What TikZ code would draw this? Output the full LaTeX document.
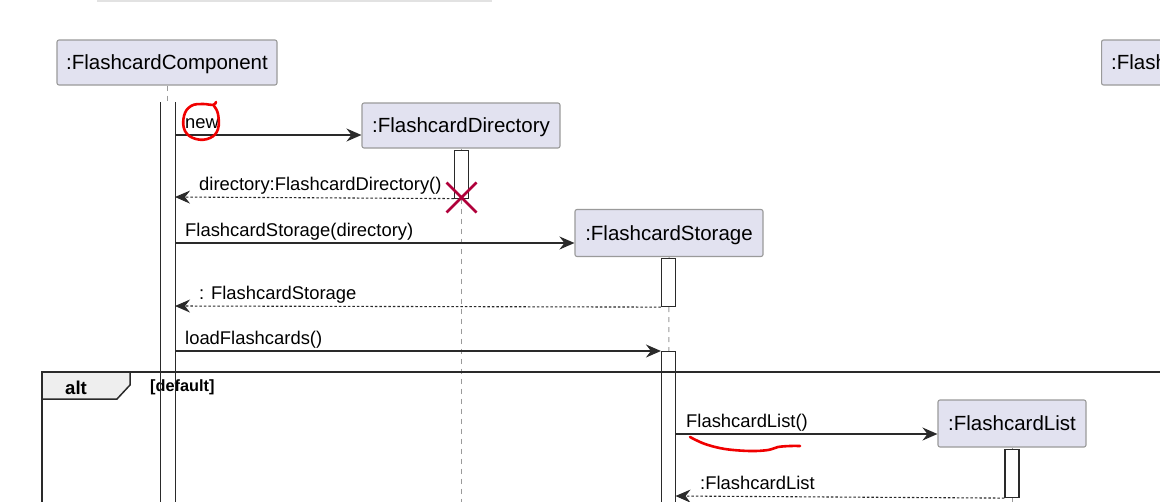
\documentclass[tikz,border=0pt]{standalone}
\usepackage{fontspec}
\setmainfont{Liberation Sans}
\usetikzlibrary{arrows.meta}
\definecolor{pbg}{HTML}{E2E2F0}
\definecolor{pbd}{HTML}{9A9A9A}
\definecolor{ink}{HTML}{2A2A2A}
\definecolor{life}{HTML}{9A9A9A}
\definecolor{xred}{HTML}{B0003A}
\definecolor{tabbg}{HTML}{EEEEEE}
\definecolor{pen}{HTML}{F00000}
\definecolor{topline}{HTML}{E2E2E2}
\begin{document}
\begin{tikzpicture}[x=1pt,y=-1pt,
  part/.style={draw=pbd, fill=pbg, line width=1.1pt, rounded corners=2pt, inner sep=0pt,
    font=\fontsize{20.5}{24}\selectfont, text height=14pt, text depth=0pt},
  actbar/.style={draw=ink, fill=white, line width=1.1pt, minimum width=14pt, inner sep=0pt, anchor=north},
  lifeline/.style={draw=life, line width=1pt, dash pattern=on 5pt off 5pt},
  msg/.style={draw=ink, line width=1.3pt, -{Stealth[length=15pt, width=13pt, inset=5pt]}},
  ret/.style={draw=ink, line width=1.1pt, dash pattern=on 2.5pt off 2pt, -{Stealth[length=15pt, width=13pt, inset=5pt]}},
  lbl/.style={anchor=base west, inner sep=0pt, font=\fontsize{18.4}{22}\selectfont},
  frameline/.style={draw=ink, line width=2pt},
  tab/.style={draw=ink, line width=1.5pt, fill=tabbg},
  destroy/.style={draw=xred, line width=2.6pt},
  scribble/.style={draw=pen, line width=2.6pt, line cap=round, line join=round}
]
\useasboundingbox (0,0) rectangle (1160,501);
\clip (0,0) rectangle (1160,501);

% faint line at the top
\draw[topline, line width=2pt] (97,0.8) -- (492,0.8);

% participants
\node[part, minimum width=220pt, minimum height=45pt] (comp) at (167,62.5) {:FlashcardComponent};
\node[part, minimum width=198pt, minimum height=45pt] (dir) at (461,125.5) {:FlashcardDirectory};
\node[part, minimum width=188pt, minimum height=47pt] (stor) at (669,233) {:FlashcardStorage};
\node[part, minimum width=148pt, minimum height=47pt] (list) at (1012,423.5) {:FlashcardList};
\node[part, minimum width=200pt, minimum height=45pt, anchor=west] (right) at (1101,62.5) {};
\node[anchor=base west, inner sep=0pt, font=\fontsize{20.5}{24}\selectfont] (righttxt) at (1111,69.5) {:Flash};

% lifelines
\coordinate (compend) at (167,540);
\coordinate (dirend) at (461,540);
\coordinate (storend) at (668.5,540);
\coordinate (listend) at (1012,540);
\draw[lifeline] (comp.south) -- (compend);
\draw[lifeline] (dir.south) -- (dirend);
\draw[lifeline] (stor.south) -- (storend);
\draw[lifeline] (list.south) -- (listend);

% activation bars
\node[actbar, draw=none, minimum height=440pt] (compbar) at (168,102) {};
\node[actbar, minimum height=48pt] (dirbar) at (461.5,149.5) {};
\node[actbar, minimum height=48pt] (storbar1) at (668.5,258) {};
\node[actbar, minimum height=200pt] (storbar2) at (668.5,351) {};
\node[actbar, minimum height=48pt] (listbar) at (1012,449) {};

% destroy mark
\coordinate (xc) at (461.5,197.5);
\draw[destroy] ([shift={(-15,-15)}]xc) -- ([shift={(15,15)}]xc)
               ([shift={(-15,15)}]xc) -- ([shift={(15,-15)}]xc);

% messages
\coordinate (m1) at (175,135);
\draw[msg] (m1) -- (dir.west |- m1);
\node[lbl] (l1) at (185,128) {new};

\coordinate (r1) at (175,197);
\draw[ret] (dirbar.south west) -- (r1);
\node[lbl] (l2) at (199,190) {directory:FlashcardDirectory()};

\coordinate (m2) at (175,243);
\draw[msg] (m2) -- (stor.west |- m2);
\node[lbl] (l3) at (185,236) {FlashcardStorage(directory)};

\coordinate (r2) at (175,306);
\draw[ret] (storbar1.south west) -- (r2);
\node[lbl] (l4) at (199,299) {: FlashcardStorage};

\coordinate (m3) at (175,351);
\draw[msg] (m3) -- (storbar2.north west);
\node[lbl] (l5) at (185,344) {loadFlashcards()};

\coordinate (m4) at (675.5,434);
\draw[msg] (m4) -- (list.west |- m4);
\node[lbl] (l6) at (686,427) {FlashcardList()};

\coordinate (r3) at (675.5,496);
\draw[ret] (listbar.south west) -- (r3);
\node[lbl] (l7) at (700,489) {:FlashcardList};

% alt frame
\coordinate (fr1) at (42,540);
\coordinate (fr2) at (42,372);
\coordinate (fr3) at (1180,372);
\draw[frameline] (fr1) -- (fr2) -- (fr3);
\draw[tab] (42,372) -- (130,372) -- (130,385) -- (117,399) -- (42,399) -- cycle;
\node[anchor=base west, inner sep=0pt, font=\bfseries\fontsize{18.6}{22}\selectfont] (alt) at (65,394) {alt};
\node[anchor=base west, inner sep=0pt, font=\bfseries\fontsize{16.3}{20}\selectfont] (guard) at (150,391) {[default]};
\draw[draw=ink, line width=1.1pt] (compbar.north west) -- (compbar.south west)
   (compbar.north east) -- (compbar.south east);

% hand-drawn red marks
\draw[scribble] plot[smooth, tension=0.7] coordinates {(216,102) (213,105) (203,104) (191,106) (184,116) (185,131) (196,139) (210,138) (218,129) (218,114) (214,106)};
\draw[scribble] plot[smooth, tension=0.6] coordinates {(690,437) (705,444) (725,449) (750,451) (768,450) (778,447) (790,446) (800,446)};
\end{tikzpicture}
\end{document}
